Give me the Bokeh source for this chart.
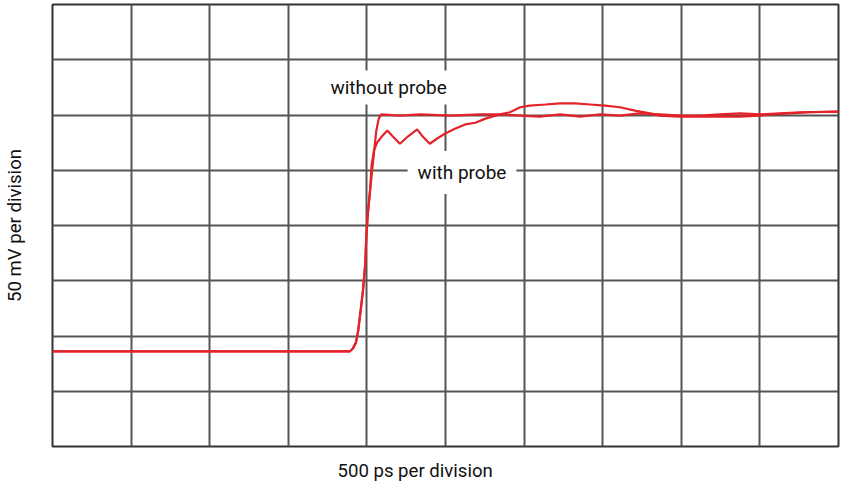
from bokeh.plotting import figure
from bokeh.models import Label, FixedTicker, Title
from bokeh.embed import file_html
from bokeh.resources import INLINE

# Scope trace data, in screen divisions (x: 0-10 horizontal, y: 0-8 vertical)
x_without = [0, 3.78, 3.82, 3.86, 3.89, 3.92, 3.95, 3.98, 3.99, 4.01, 4.04, 4.08, 4.12, 4.15, 4.18,
             4.42, 4.68, 5.06, 5.44, 5.69, 5.95, 6.20, 6.46, 6.71, 6.97, 7.22, 7.47, 7.73, 7.98,
             8.24, 8.49, 8.75, 9.00, 9.26, 9.51, 10.0]
y_without = [1.72, 1.72, 1.77, 1.88, 2.10, 2.46, 2.82, 3.33, 3.73, 4.18, 4.63, 5.18, 5.72, 5.93, 6.01,
             5.99, 6.01, 5.99, 6.01, 6.01, 5.99, 5.97, 6.01, 5.97, 6.01, 5.99, 6.03, 6.01, 5.99,
             5.99, 6.01, 6.03, 6.01, 6.03, 6.05, 6.06]

x_with = [0, 3.78, 3.82, 3.86, 3.89, 3.92, 3.95, 3.98, 3.99, 4.01, 4.04, 4.06, 4.09, 4.13, 4.19,
          4.26, 4.33, 4.42, 4.52, 4.64, 4.71, 4.80, 4.89, 4.99, 5.12, 5.25, 5.38, 5.50, 5.59,
          5.69, 5.82, 5.95, 6.07, 6.27, 6.46, 6.65, 6.84, 7.03, 7.22, 7.41, 7.60, 7.73, 7.98,
          8.24, 8.49, 8.75, 9.00, 9.13, 9.38, 9.64, 10.0]
y_with = [1.72, 1.72, 1.77, 1.88, 2.10, 2.46, 2.82, 3.33, 3.73, 4.18, 4.63, 5.09, 5.36, 5.50, 5.61,
          5.72, 5.61, 5.48, 5.61, 5.74, 5.61, 5.48, 5.57, 5.66, 5.75, 5.83, 5.86, 5.93, 5.97,
          6.01, 6.05, 6.14, 6.17, 6.19, 6.21, 6.21, 6.19, 6.17, 6.14, 6.08, 6.03, 5.99, 5.97,
          5.97, 5.97, 5.97, 5.99, 6.01, 6.03, 6.05, 6.06]

x_divisions = list(range(11))
y_divisions = list(range(9))

x_title = "500 ps per division"
y_title = "50 mV per division"
label_without = "without probe"
label_with = "with probe"

FONT = "Roboto"
RED = "#e3222a"
GRID = "#555555"

p = figure(frame_width=786, frame_height=442, output_backend="svg", toolbar_location=None,
           x_range=(0, 10), y_range=(0, 8),
           min_border_left=52, min_border_right=6, min_border_top=4, min_border_bottom=45)

p.background_fill_color = "white"
p.border_fill_color = "white"
p.outline_line_color = "#333333"
p.outline_line_width = 2

for ax in (p.xaxis, p.yaxis):
    ax.ticker = FixedTicker(ticks=[])
    ax.major_label_standoff = 0
    ax.major_tick_out = 0
    ax.major_tick_in = 0
    ax.minor_tick_out = 0
    ax.minor_tick_in = 0
    ax.axis_line_color = None

p.yaxis.axis_label = y_title
p.yaxis.axis_label_standoff = 27
p.yaxis.axis_label_text_font = FONT
p.yaxis.axis_label_text_font_size = "18.6px"
p.yaxis.axis_label_text_font_style = "normal"
p.yaxis.axis_label_text_color = "#111111"
p.yaxis.bounds = (0.29, 8)

p.xgrid.ticker = FixedTicker(ticks=x_divisions)
p.ygrid.ticker = FixedTicker(ticks=y_divisions)
for g in (p.xgrid, p.ygrid):
    g.grid_line_color = GRID
    g.grid_line_width = 2
    g.grid_line_alpha = 1.0

p.line(x_with, y_with, line_color=RED, line_width=2.2)
p.line(x_without, y_without, line_color=RED, line_width=2.2)

lab1 = Label(x=4.27, y=6.50, text=label_without, text_align="center", text_baseline="middle",
             text_font=FONT, text_font_size="19px", text_color="#111111",
             background_fill_color="white", padding=(6, 5, 6, 5))
lab2 = Label(x=5.21, y=4.96, text=label_with, text_align="center", text_baseline="middle",
             text_font=FONT, text_font_size="19px", text_color="#111111",
             background_fill_color="white", padding=(10, 10, 10, 10))
p.add_layout(lab1)
p.add_layout(lab2)

xtitle = Title(text=x_title, align="left", offset=285, standoff=23,
               text_font=FONT, text_font_size="18.6px", text_font_style="normal",
               text_color="#111111")
p.add_layout(xtitle, "below")

open("out.html", "w").write(file_html(p, INLINE))
